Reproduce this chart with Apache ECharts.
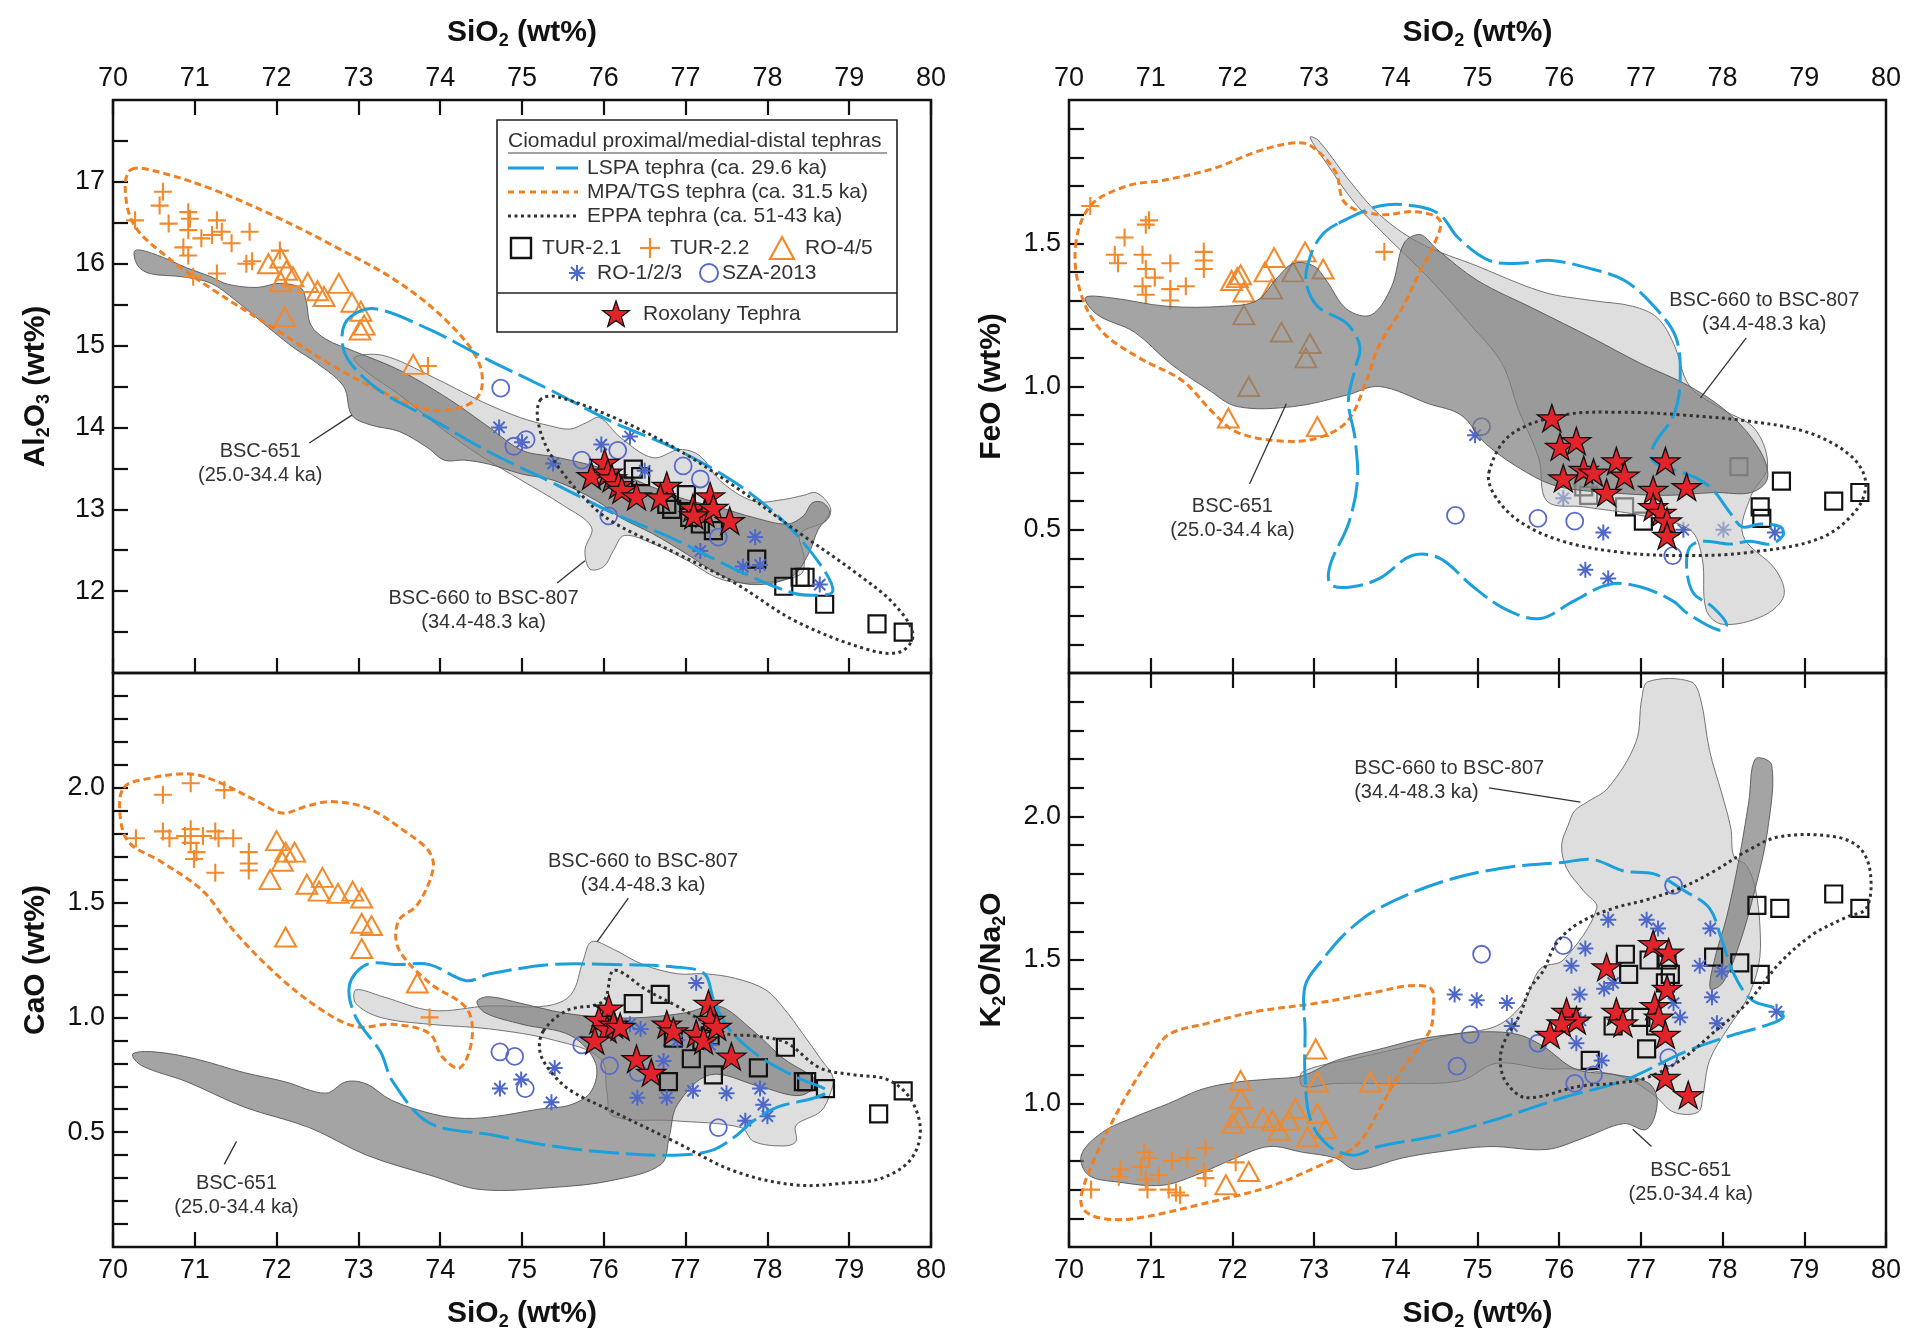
<!DOCTYPE html>
<html>
<head>
<meta charset="utf-8">
<script src="https://cdn.jsdelivr.net/npm/echarts@6/dist/echarts.min.js"></script>
<style>
html, body { margin: 0; padding: 0; background: #fff; }
#chart { width: 1911px; height: 1337px; }
</style>
</head>
<body>
<div id="chart"></div>
<script>
// axis ranges
const siO2Range = [70, 80]
const al2o3Range = [11, 18]
const caoRange = [0, 2.5]
const feoRange = [0, 2]
const ratioRange = [0.5, 2.5]

// ---- Al2O3 vs SiO2 ----
const alTur21 = [[76.36,13.49],[76.45,13.4],[76.77,13.06],[76.83,13.0],[77.01,13.18],[77.05,12.9],[77.18,12.82],[77.34,12.74],[77.87,12.39],[78.2,12.06],[78.4,12.17],[78.46,12.17],[78.7,11.84],[79.34,11.6],[79.66,11.5]]
const alTur22 = [[70.27,16.53],[70.57,16.71],[70.61,16.88],[70.68,16.49],[70.92,16.63],[70.94,16.55],[70.92,16.41],[70.86,16.2],[70.92,16.1],[70.98,15.84],[71.08,16.31],[71.21,16.35],[71.27,16.53],[71.33,16.39],[71.45,16.25],[71.67,16.39],[71.63,16.0],[71.7,16.03],[71.27,15.88],[72.04,16.16],[73.85,14.75]]
const alRo45 = [[71.9,16.0],[72.05,16.07],[72.12,15.92],[72.05,15.78],[72.2,15.84],[72.38,15.77],[72.5,15.67],[72.58,15.6],[72.76,15.76],[72.92,15.53],[73.03,15.42],[73.07,15.25],[73.02,15.19],[72.1,15.35],[73.67,14.77]]
const alRo123 = [[74.72,14.0],[75.0,13.82],[75.38,13.56],[75.97,13.79],[76.32,13.89],[76.5,13.47],[77.18,12.49],[77.85,12.66],[77.91,12.32],[77.7,12.3],[78.64,12.08]]
const alSza = [[74.74,14.48],[74.9,13.77],[75.05,13.85],[75.73,13.6],[76.17,13.72],[76.06,12.92],[76.97,13.53],[77.18,13.37],[77.4,12.66]]
const alRox = [[76.01,13.57],[75.85,13.41],[76.05,13.45],[76.1,13.38],[76.18,13.3],[76.22,13.24],[76.4,13.16],[76.77,13.29],[76.69,13.15],[77.09,13.02],[77.3,13.16],[77.24,12.95],[77.34,13.02],[77.1,12.93],[77.54,12.86]]
const alBsc651 = [[70.27,16.16],[70.5,16.12],[70.9,15.95],[71.2,15.84],[71.4,15.75],[71.76,15.71],[72.04,15.76],[72.3,15.7],[72.36,15.55],[72.42,15.25],[72.6,15.08],[72.95,14.93],[73.5,14.7],[74.1,14.35],[74.6,14.0],[75.0,13.72],[75.4,13.64],[75.8,13.55],[76.2,13.43],[76.6,13.27],[77.0,13.12],[77.42,13.02],[77.83,12.9],[78.24,12.82],[78.44,12.92],[78.55,13.08],[78.68,13.08],[78.76,12.95],[78.62,12.75],[78.5,12.45],[78.3,12.18],[77.83,12.08],[77.42,12.2],[77.02,12.45],[76.6,12.7],[76.2,12.9],[75.92,13.1],[75.4,13.35],[75.0,13.43],[74.6,13.55],[74.3,13.6],[74.05,13.6],[73.85,13.75],[73.5,13.95],[73.15,14.03],[72.92,14.15],[72.82,14.5],[72.5,14.78],[72.2,14.98],[71.9,15.22],[71.5,15.55],[71.2,15.76],[70.85,15.84],[70.45,15.88],[70.3,15.98]]
const alBsc660 = [[72.95,14.85],[73.3,14.88],[73.9,14.62],[74.5,14.32],[74.98,14.12],[75.34,14.02],[75.59,13.98],[75.79,14.06],[75.95,14.12],[76.2,13.88],[76.6,13.63],[76.93,13.73],[77.18,13.65],[77.42,13.35],[77.83,13.1],[78.2,13.12],[78.44,13.17],[78.6,13.2],[78.77,13.02],[78.72,12.86],[78.4,12.7],[78.45,12.4],[78.4,12.2],[77.83,12.1],[77.42,12.15],[77.01,12.38],[76.6,12.58],[76.25,12.68],[76.12,12.5],[76.0,12.3],[75.83,12.27],[75.77,12.5],[75.85,12.78],[75.5,13.05],[75.0,13.35],[74.5,13.65],[74.0,14.0],[73.5,14.4],[73.1,14.68]]
const alLspa = [[72.9,15.35],[73.2,15.45],[73.86,15.2],[74.6,14.82],[75.36,14.45],[76.1,14.07],[76.85,13.75],[77.6,13.33],[78.2,12.85],[78.65,12.32],[78.8,12.0],[78.6,11.95],[78.3,11.98],[77.6,12.27],[76.85,12.64],[76.1,12.96],[75.36,13.33],[74.6,13.7],[73.86,14.12],[73.26,14.45],[72.88,14.82],[72.8,15.12]]
const alMpa = [[70.22,17.15],[70.56,17.12],[71.24,16.9],[72.0,16.57],[72.73,16.2],[73.48,15.78],[74.08,15.3],[74.46,14.82],[74.5,14.45],[74.3,14.26],[73.86,14.22],[73.26,14.45],[72.66,14.77],[72.0,15.19],[71.24,15.67],[70.64,16.1],[70.26,16.47],[70.15,16.9]]
const alEppa = [[75.22,14.33],[75.4,14.38],[76.1,14.13],[76.85,13.76],[77.6,13.28],[78.35,12.74],[79.1,12.21],[79.55,11.84],[79.78,11.47],[79.63,11.26],[79.25,11.28],[78.35,11.63],[77.6,12.1],[76.85,12.48],[76.1,12.85],[75.73,13.17],[75.36,13.65],[75.2,14.05]]

// ---- CaO vs SiO2 ----
const caTur21 = [[76.36,1.06],[76.69,1.1],[76.85,0.91],[77.07,0.82],[77.34,0.75],[76.79,0.72],[77.2,0.9],[77.3,0.92],[78.22,0.87],[77.89,0.78],[78.44,0.72],[78.48,0.72],[78.71,0.69],[79.36,0.58],[79.66,0.68]]
const caTur22 = [[70.28,1.78],[70.61,1.97],[70.61,1.81],[70.69,1.78],[70.88,1.79],[70.95,2.02],[70.95,1.82],[70.95,1.76],[71.02,1.72],[70.99,1.69],[71.1,1.79],[71.25,1.81],[71.29,1.78],[71.47,1.78],[71.36,1.99],[71.25,1.63],[71.66,1.72],[71.66,1.67],[71.66,1.64],[73.87,1.0]]
const caRo45 = [[72.0,1.77],[72.11,1.72],[72.22,1.72],[72.07,1.68],[71.92,1.6],[72.37,1.58],[72.56,1.61],[72.52,1.55],[72.75,1.54],[72.93,1.55],[73.04,1.52],[73.04,1.41],[73.16,1.4],[73.04,1.3],[72.11,1.35],[73.72,1.15]]
const caRo123 = [[74.73,0.69],[74.99,0.73],[75.4,0.78],[75.36,0.63],[76.32,0.97],[76.45,0.95],[76.73,0.81],[76.77,0.65],[76.41,0.65],[77.09,0.68],[77.13,1.15],[77.5,0.67],[77.91,0.69],[77.95,0.62],[77.73,0.55],[78.0,0.57],[76.9,0.9],[77.3,0.88]]
const caSza = [[74.73,0.85],[74.91,0.83],[75.04,0.69],[75.73,0.88],[76.07,0.79],[76.42,0.76],[77.4,0.52]]
const caRox = [[76.06,1.04],[75.94,0.99],[76.04,0.95],[76.12,0.97],[76.2,0.96],[75.89,0.9],[76.4,0.82],[76.58,0.76],[76.77,0.97],[76.85,0.94],[77.28,1.06],[77.3,0.99],[77.13,0.93],[77.22,0.9],[77.38,0.96],[77.56,0.83]]
const caBsc651 = [[70.24,0.84],[70.5,0.85],[71.0,0.82],[71.6,0.76],[72.1,0.72],[72.6,0.67],[72.85,0.72],[73.1,0.71],[73.4,0.64],[73.9,0.58],[74.3,0.56],[74.7,0.57],[75.2,0.6],[75.6,0.62],[75.85,0.68],[75.9,0.8],[75.6,0.92],[75.0,0.97],[74.55,1.02],[74.45,1.07],[74.6,1.09],[75.0,1.06],[75.5,1.02],[76.0,1.0],[76.5,1.0],[77.0,1.02],[77.4,1.05],[77.8,0.95],[78.2,0.82],[78.6,0.72],[78.4,0.66],[77.9,0.7],[77.3,0.75],[76.9,0.62],[76.8,0.48],[76.7,0.36],[76.1,0.29],[75.4,0.26],[74.5,0.25],[73.9,0.31],[73.1,0.4],[72.4,0.52],[71.6,0.61],[70.9,0.72],[70.35,0.79]]
const caBsc660 = [[72.97,1.12],[73.3,1.09],[73.9,1.03],[74.6,1.05],[75.3,1.05],[75.6,1.1],[75.75,1.25],[75.85,1.33],[76.1,1.3],[76.48,1.23],[76.9,1.19],[77.23,1.19],[77.61,1.17],[77.98,1.12],[78.2,1.04],[78.43,0.93],[78.65,0.82],[78.8,0.74],[78.77,0.67],[78.65,0.59],[78.35,0.53],[78.35,0.46],[78.2,0.44],[77.83,0.46],[77.68,0.52],[76.86,0.55],[76.11,0.57],[76.04,0.67],[75.96,0.82],[75.4,0.9],[74.6,0.95],[73.87,0.97],[73.27,1.0],[72.97,1.06]]
const caLspa = [[72.89,1.14],[73.1,1.23],[73.5,1.23],[73.87,1.23],[74.32,1.16],[74.61,1.19],[75.36,1.23],[76.11,1.23],[76.86,1.22],[77.23,1.19],[77.34,1.08],[77.53,0.95],[77.9,0.83],[78.35,0.74],[78.73,0.68],[78.58,0.65],[78.13,0.61],[77.83,0.55],[77.6,0.48],[77.31,0.42],[76.86,0.4],[76.11,0.41],[75.36,0.44],[74.61,0.49],[73.87,0.54],[73.42,0.72],[73.27,0.85],[72.97,1.0]]
const caMpa = [[70.13,2.0],[70.43,2.04],[70.95,2.06],[71.32,2.02],[71.77,1.94],[72.07,1.89],[72.37,1.92],[72.67,1.94],[73.12,1.91],[73.57,1.81],[73.87,1.72],[73.91,1.64],[73.72,1.49],[73.49,1.42],[73.49,1.3],[73.87,1.15],[74.32,1.04],[74.39,0.91],[74.24,0.78],[74.02,0.83],[73.87,0.93],[73.42,0.97],[72.97,0.96],[72.52,1.04],[71.99,1.19],[71.47,1.38],[71.1,1.55],[70.58,1.68],[70.2,1.76],[70.09,1.87]]
const caEppa = [[75.26,0.94],[75.55,1.03],[75.99,1.07],[76.1,1.2],[76.2,1.2],[76.52,1.12],[76.89,1.05],[77.5,0.93],[77.83,0.92],[78.23,0.89],[78.64,0.78],[79.05,0.75],[79.46,0.73],[79.74,0.65],[79.87,0.51],[79.75,0.38],[79.4,0.3],[79.0,0.28],[78.35,0.27],[77.6,0.33],[76.86,0.46],[76.11,0.59],[75.6,0.68],[75.36,0.76],[75.22,0.85]]

// ---- FeO vs SiO2 ----
const feTur21 = [[76.36,0.62],[76.8,0.58],[77.03,0.53],[78.46,0.58],[78.48,0.54],[78.72,0.67],[79.36,0.6],[79.68,0.63],[78.2,0.72],[76.3,0.65]]
const feTur22 = [[70.26,1.63],[70.98,1.58],[70.94,1.565],[70.68,1.52],[70.56,1.46],[70.6,1.43],[70.9,1.46],[70.94,1.41],[71.05,1.38],[70.9,1.35],[70.94,1.32],[71.24,1.43],[71.24,1.34],[71.24,1.3],[71.43,1.35],[71.65,1.47],[71.65,1.44],[71.65,1.41],[73.86,1.47]]
const feRo45 = [[71.99,1.37],[72.06,1.38],[72.1,1.39],[72.14,1.33],[72.4,1.4],[72.51,1.45],[72.48,1.34],[72.74,1.4],[72.89,1.47],[73.11,1.41],[72.14,1.25],[71.95,0.89],[73.04,0.86],[72.6,1.19],[72.95,1.15],[72.9,1.1],[72.2,1.0]]
const feRo123 = [[74.97,0.83],[76.05,0.61],[76.54,0.49],[76.32,0.36],[76.6,0.33],[77.52,0.5],[78.01,0.5],[78.64,0.49]]
const feSza = [[74.73,0.55],[75.74,0.54],[76.19,0.53],[77.39,0.41],[75.05,0.86]]
const feRox = [[75.91,0.89],[76.01,0.79],[76.21,0.81],[76.05,0.68],[76.3,0.71],[76.42,0.7],[76.58,0.63],[76.7,0.74],[76.8,0.69],[77.3,0.74],[77.56,0.65],[77.15,0.64],[77.15,0.58],[77.25,0.56],[77.32,0.53],[77.32,0.48]]
const feBsc651 = [[70.2,1.31],[70.5,1.31],[71.2,1.28],[71.9,1.28],[72.3,1.3],[72.55,1.38],[72.75,1.43],[73.0,1.42],[73.15,1.37],[73.4,1.27],[73.7,1.25],[73.95,1.35],[74.1,1.5],[74.3,1.53],[74.5,1.48],[75.0,1.37],[75.7,1.27],[76.4,1.17],[77.0,1.08],[77.6,1.0],[78.1,0.9],[78.45,0.78],[78.55,0.68],[78.35,0.63],[77.9,0.63],[77.3,0.62],[76.6,0.63],[76.0,0.65],[75.6,0.7],[75.1,0.8],[74.8,0.9],[74.4,0.94],[73.8,1.0],[73.4,0.97],[72.75,0.93],[72.06,0.93],[71.7,0.99],[71.24,1.08],[70.8,1.19],[70.35,1.25]]
const feBsc660 = [[72.95,1.87],[73.05,1.86],[73.4,1.73],[73.8,1.6],[74.3,1.5],[75.0,1.42],[75.8,1.33],[76.4,1.3],[76.9,1.28],[77.2,1.24],[77.4,1.15],[77.6,1.0],[78.0,0.92],[78.4,0.85],[78.55,0.72],[78.35,0.62],[78.25,0.48],[78.65,0.36],[78.75,0.27],[78.5,0.2],[78.0,0.17],[77.8,0.22],[77.75,0.4],[77.6,0.5],[77.0,0.55],[76.3,0.58],[75.85,0.6],[75.75,0.75],[75.5,0.92],[75.3,1.08],[74.9,1.22],[74.4,1.38],[73.9,1.52],[73.5,1.64],[73.15,1.78]]
const feLspa = [[73.3,1.57],[73.8,1.63],[74.24,1.63],[74.54,1.6],[74.76,1.52],[75.14,1.44],[75.51,1.43],[75.9,1.44],[76.4,1.41],[76.8,1.37],[77.16,1.28],[77.43,1.17],[77.48,1.02],[77.4,0.9],[77.15,0.79],[77.15,0.74],[77.4,0.71],[77.68,0.68],[77.88,0.64],[78.09,0.56],[78.24,0.51],[78.46,0.52],[78.71,0.51],[78.74,0.48],[78.58,0.45],[78.34,0.46],[78.09,0.45],[77.76,0.46],[77.6,0.44],[77.56,0.37],[77.64,0.28],[77.88,0.23],[78.05,0.17],[77.95,0.15],[77.56,0.21],[77.4,0.25],[77.0,0.3],[76.62,0.31],[76.17,0.25],[75.77,0.19],[75.36,0.22],[74.95,0.3],[74.54,0.4],[74.2,0.41],[73.8,0.33],[73.45,0.3],[73.2,0.31],[73.2,0.38],[73.42,0.52],[73.53,0.67],[73.5,0.82],[73.42,0.95],[73.5,1.06],[73.56,1.14],[73.4,1.22],[73.04,1.28],[72.9,1.37],[72.96,1.46],[73.1,1.53]]
const feMpa = [[70.08,1.49],[70.26,1.63],[70.71,1.7],[71.16,1.72],[71.76,1.76],[72.3,1.82],[72.74,1.85],[72.96,1.84],[73.26,1.75],[73.38,1.64],[73.79,1.6],[74.24,1.61],[74.54,1.58],[74.46,1.49],[74.31,1.41],[74.09,1.28],[73.79,1.14],[73.64,1.02],[73.41,0.88],[73.04,0.82],[72.59,0.81],[72.06,0.84],[71.76,0.91],[71.39,1.02],[70.86,1.1],[70.41,1.19],[70.15,1.32]]
const feEppa = [[75.14,0.7],[75.4,0.83],[76.04,0.9],[76.79,0.91],[77.54,0.9],[78.29,0.88],[79.04,0.84],[79.56,0.76],[79.75,0.67],[79.64,0.57],[79.19,0.47],[78.29,0.42],[77.54,0.41],[76.79,0.42],[76.04,0.46],[75.51,0.53],[75.21,0.62]]

// ---- K2O/Na2O vs SiO2 ----
const krTur21 = [[76.81,1.52],[76.85,1.45],[77.1,1.5],[77.32,1.5],[77.36,1.45],[77.89,1.51],[78.21,1.49],[78.46,1.45],[78.42,1.69],[78.7,1.68],[79.36,1.73],[79.68,1.68],[76.66,1.27],[77.07,1.19],[76.38,1.15],[77.0,1.3],[77.18,1.27],[77.3,1.42]]
const krTur22 = [[70.27,0.7],[70.63,0.77],[70.61,0.745],[70.88,0.78],[70.94,0.735],[70.96,0.7],[70.92,0.83],[70.98,0.81],[71.1,0.75],[71.26,0.8],[71.45,0.81],[71.22,0.7],[71.31,0.69],[71.36,0.68],[71.67,0.845],[71.65,0.765],[71.67,0.74],[72.04,0.795],[73.92,1.066]]
const krRo45 = [[72.1,1.08],[72.1,1.017],[73.02,1.19],[73.04,1.075],[73.69,1.075],[72.0,0.93],[72.08,0.95],[72.37,0.95],[72.49,0.94],[72.57,0.907],[72.77,0.983],[72.69,0.942],[73.04,0.965],[73.14,0.913],[72.92,0.884],[72.2,0.763],[71.92,0.717]]
const krRo123 = [[74.72,1.38],[74.99,1.36],[75.36,1.35],[75.42,1.27],[76.15,1.48],[76.32,1.54],[76.6,1.64],[76.25,1.38],[76.55,1.4],[76.66,1.42],[76.21,1.21],[76.52,1.15],[77.07,1.64],[77.21,1.61],[77.85,1.61],[77.72,1.48],[77.99,1.46],[77.87,1.37],[77.93,1.28],[78.66,1.32],[77.48,1.3],[76.26,1.29],[77.4,1.35]]
const krSza = [[75.05,1.52],[76.05,1.55],[77.4,1.76],[74.91,1.24],[74.75,1.13],[75.74,1.21],[76.19,1.07],[76.42,1.1],[77.34,1.16]]
const krRox = [[76.58,1.475],[77.15,1.556],[77.34,1.527],[77.32,1.4],[76.09,1.32],[76.21,1.29],[76.03,1.28],[75.89,1.24],[76.7,1.32],[76.78,1.28],[77.17,1.34],[77.22,1.3],[77.3,1.24],[77.3,1.09],[77.58,1.03]]
const krBsc651Band = [[70.15,0.82],[70.41,0.9],[70.82,0.955],[71.22,1.0],[71.63,1.05],[72.04,1.074],[72.45,1.085],[72.86,1.097],[73.26,1.149],[73.88,1.195],[74.28,1.224],[74.69,1.241],[75.1,1.25],[75.5,1.24],[75.8,1.2],[76.2,1.12],[76.7,1.1],[77.1,1.07],[77.2,1.0],[77.07,0.91],[76.79,0.93],[76.3,0.88],[75.85,0.84],[75.14,0.85],[74.49,0.83],[74.08,0.81],[73.51,0.77],[73.26,0.81],[72.86,0.83],[72.45,0.85],[72.04,0.81],[71.55,0.75],[71.14,0.715],[70.61,0.726],[70.24,0.75]]
const krBsc651Streak = [[78.4,2.2],[78.6,2.18],[78.55,1.95],[78.4,1.75],[78.2,1.55],[78.0,1.42],[77.85,1.4],[77.9,1.5],[78.05,1.65],[78.2,1.85],[78.32,2.05]]
const krBsc660 = [[72.86,1.11],[73.55,1.16],[74.08,1.195],[74.69,1.24],[75.23,1.27],[75.56,1.35],[75.77,1.47],[76.05,1.5],[76.46,1.68],[76.3,1.74],[76.09,1.82],[76.03,1.9],[76.11,1.97],[76.19,2.02],[76.34,2.05],[76.6,2.1],[76.94,2.26],[77.01,2.41],[77.09,2.47],[77.61,2.47],[77.73,2.41],[77.84,2.23],[77.99,2.08],[78.1,1.96],[78.14,1.86],[78.29,1.83],[78.4,1.75],[78.46,1.6],[78.44,1.48],[78.29,1.36],[78.06,1.26],[77.84,1.15],[77.76,1.03],[77.7,0.97],[77.4,0.97],[77.16,1.03],[76.8,1.09],[76.2,1.12],[75.85,1.12],[75.23,1.14],[74.8,1.08],[74.08,1.07],[73.26,1.07],[72.86,1.06]]
const krLspa = [[72.89,1.41],[73.1,1.5],[73.41,1.6],[73.79,1.68],[74.54,1.77],[75.29,1.82],[76.04,1.84],[76.41,1.85],[76.79,1.81],[77.16,1.8],[77.54,1.74],[77.84,1.68],[77.99,1.57],[78.14,1.45],[78.36,1.36],[78.66,1.33],[78.74,1.3],[78.51,1.27],[78.14,1.24],[77.54,1.18],[76.79,1.08],[76.04,1.02],[75.29,0.95],[74.54,0.89],[73.79,0.85],[73.49,0.82],[73.19,0.85],[72.96,0.94],[72.89,1.09],[72.89,1.25]]
const krMpa = [[70.15,0.68],[70.3,0.8],[70.5,0.92],[70.75,1.05],[71.0,1.16],[71.22,1.24],[71.7,1.28],[72.28,1.32],[73.04,1.35],[73.79,1.39],[74.16,1.41],[74.43,1.4],[74.46,1.33],[74.41,1.25],[74.08,1.12],[73.8,0.98],[73.6,0.88],[73.4,0.83],[73.04,0.78],[72.45,0.71],[71.63,0.65],[70.82,0.6],[70.4,0.6],[70.18,0.63]]
const krEppa = [[75.6,1.02],[76.25,1.06],[76.66,1.07],[77.07,1.09],[77.48,1.15],[77.9,1.25],[78.3,1.35],[78.7,1.49],[79.11,1.59],[79.52,1.65],[79.76,1.68],[79.81,1.8],[79.68,1.89],[79.36,1.93],[78.7,1.93],[78.3,1.88],[77.9,1.81],[77.48,1.75],[77.07,1.71],[76.66,1.68],[76.25,1.63],[75.97,1.56],[75.8,1.46],[75.64,1.4],[75.52,1.31],[75.32,1.21],[75.28,1.14],[75.36,1.07]]

// ---- layout and styles ----
const FONT = '"Liberation Sans", Arial, Helvetica, sans-serif'
const INK = '#111'
const ORANGE = '#f28a2c'
const BLUE_PT = '#4d68c8'
const CYAN = '#1ba0dc'

const PLUS = 'path://M10,0L10,20M0,10L20,10'
const ASTER = 'path://M10,0L10,20M0,10L20,10M3,3L17,17M17,3L3,17'
const STAR = 'path://M50,2L61.2,36.3L97.6,36.3L68.2,57.6L79.4,92L50,70.7L20.6,92L31.8,57.6L2.4,36.3L38.8,36.3Z'

const markStyles = [
  { name: 'TUR-2.1', symbol: 'rect', size: 17, fill: 'rgba(0,0,0,0)', stroke: INK, width: 2.2 },
  { name: 'TUR-2.2', symbol: PLUS, size: 18, fill: 'rgba(0,0,0,0)', stroke: ORANGE, width: 2.1 },
  { name: 'RO-4/5', symbol: 'triangle', size: [21, 19], fill: 'rgba(0,0,0,0)', stroke: ORANGE, width: 2 },
  { name: 'RO-1/2/3', symbol: ASTER, size: 16, fill: 'rgba(0,0,0,0)', stroke: BLUE_PT, width: 2 },
  { name: 'SZA-2013', symbol: 'circle', size: 17, fill: 'rgba(0,0,0,0)', stroke: '#5a6acb', width: 1.8 },
  { name: 'Roxolany Tephra', symbol: STAR, size: [29, 27], fill: '#e3232a', stroke: INK, width: 1.3 }
]

const panels = [
  { marks: [alTur21, alTur22, alRo45, alRo123, alSza, alRox], light: [alBsc660], dark: [alBsc651], lspa: alLspa, mpa: alMpa, eppa: alEppa, fieldsOnTop: false },
  { marks: [caTur21, caTur22, caRo45, caRo123, caSza, caRox], light: [caBsc660], dark: [caBsc651], lspa: caLspa, mpa: caMpa, eppa: caEppa, fieldsOnTop: false },
  { marks: [feTur21, feTur22, feRo45, feRo123, feSza, feRox], light: [feBsc660], dark: [feBsc651], lspa: feLspa, mpa: feMpa, eppa: feEppa, fieldsOnTop: true },
  { marks: [krTur21, krTur22, krRo45, krRo123, krSza, krRox], light: [krBsc660], dark: [krBsc651Band, krBsc651Streak], lspa: krLspa, mpa: krMpa, eppa: krEppa, fieldsOnTop: false }
]

const notes = [
  { panel: 0, at: [71.8, 13.56], from: [72.4, 13.81], to: [72.92, 14.15], text: 'BSC-651\n(25.0-34.4 ka)', align: 'center' },
  { panel: 0, at: [74.53, 11.76], from: [75.43, 12.1], to: [75.77, 12.37], text: 'BSC-660 to BSC-807\n(34.4-48.3 ka)', align: 'center' },
  { panel: 1, at: [76.48, 1.625], from: [76.3, 1.52], to: [75.92, 1.33], text: 'BSC-660 to BSC-807\n(34.4-48.3 ka)', align: 'center' },
  { panel: 1, at: [71.51, 0.225], from: [71.36, 0.36], to: [71.51, 0.46], text: 'BSC-651\n(25.0-34.4 ka)', align: 'center' },
  { panel: 2, at: [72.0, 0.54], from: [72.21, 0.66], to: [72.66, 0.94], text: 'BSC-651\n(25.0-34.4 ka)', align: 'center' },
  { panel: 2, at: [78.51, 1.26], from: [78.29, 1.17], to: [77.73, 0.96], text: 'BSC-660 to BSC-807\n(34.4-48.3 ka)', align: 'center' },
  { panel: 3, at: [73.49, 2.125], from: [75.14, 2.1], to: [76.26, 2.05], text: 'BSC-660 to BSC-807\n(34.4-48.3 ka)', align: 'left' },
  { panel: 3, at: [77.61, 0.725], from: [77.13, 0.85], to: [76.9, 0.91], text: 'BSC-651\n(25.0-34.4 ka)', align: 'center' }
]

const grids = [
  { left: 113, top: 100, width: 818, height: 573 },
  { left: 113, top: 673, width: 818, height: 574 },
  { left: 1069, top: 100, width: 817, height: 573 },
  { left: 1069, top: 673, width: 817, height: 574 }
]
const xAxisOf = [0, 2, 3, 5]

const nameStyle = {
  color: INK,
  rich: {
    b: { fontSize: 30, fontWeight: 'bold', fontFamily: FONT, color: INK, lineHeight: 34 },
    s: { fontSize: 18, fontWeight: 'bold', fontFamily: FONT, color: INK, lineHeight: 18, verticalAlign: 'bottom' }
  }
}
const siName = '{b|SiO}{s|2}{b| (wt%)}'
const tick = { show: true, inside: true, length: 15, lineStyle: { color: INK, width: 2.2 } }

function xAxis(grid, position, labelled) {
  return {
    type: 'value', gridIndex: grid, position, min: siO2Range[0], max: siO2Range[1], interval: 1,
    axisLine: { show: false }, splitLine: { show: false }, axisTick: tick,
    axisLabel: { show: labelled, fontSize: 27, fontFamily: FONT, color: INK, margin: position === 'top' ? 8 : 10 },
    name: labelled ? siName : '', nameLocation: 'middle', nameGap: position === 'top' ? 50 : 50,
    nameTextStyle: nameStyle
  }
}

function yAxis(grid, range, step, name, labelFn) {
  return {
    type: 'value', gridIndex: grid, min: range[0], max: range[1], interval: step,
    axisLine: { show: false }, splitLine: { show: false }, axisTick: tick,
    axisLabel: { fontSize: 27, fontFamily: FONT, color: INK, margin: 8, showMinLabel: false, showMaxLabel: false, formatter: labelFn },
    name, nameLocation: 'middle', nameRotate: 90, nameGap: 60, nameTextStyle: nameStyle
  }
}

const wholeLabel = v => Math.abs(v - Math.round(v)) < 1e-6 ? String(Math.round(v)) : ''
const halfLabel = v => Math.abs(v * 2 - Math.round(v * 2)) < 1e-6 ? v.toFixed(1) : ''

function shapeSeries(panel, pts, style, z) {
  return {
    type: 'custom', xAxisIndex: xAxisOf[panel], yAxisIndex: panel, z, silent: true, clip: true,
    data: pts, encode: { x: 0, y: 1 },
    renderItem(params, api) {
      if (params.dataIndex !== 0) return null
      return {
        type: 'polygon',
        shape: { points: pts.map(p => api.coord(p)), smooth: 0.35 },
        style: Object.assign({ fill: 'none' }, style)
      }
    }
  }
}

function markSeries(panel, pts, m, z) {
  return {
    name: m.name, type: 'scatter', xAxisIndex: xAxisOf[panel], yAxisIndex: panel, z, silent: true,
    data: pts, symbol: m.symbol, symbolSize: m.size,
    itemStyle: { color: m.fill, borderColor: m.stroke, borderWidth: m.width, opacity: 1 }
  }
}

const series = []
panels.forEach((p, i) => {
  const fz = p.fieldsOnTop ? 3 : 1
  const pz = p.fieldsOnTop ? 2 : 3
  p.light.forEach(s => series.push(shapeSeries(i, s, { fill: 'rgba(200,200,200,0.6)', stroke: '#666', lineWidth: 0.9 }, fz)))
  p.dark.forEach(s => series.push(shapeSeries(i, s, { fill: 'rgba(125,125,125,0.7)', stroke: '#555', lineWidth: 0.9 }, fz)))
  series.push(shapeSeries(i, p.mpa, { stroke: '#f07f22', lineWidth: 3, lineDash: [7, 4] }, 4))
  series.push(shapeSeries(i, p.lspa, { stroke: CYAN, lineWidth: 3, lineDash: [30, 7] }, 4))
  series.push(shapeSeries(i, p.eppa, { stroke: '#333', lineWidth: 3, lineDash: [3, 3.5] }, 4))
  p.marks.forEach((pts, k) => series.push(markSeries(i, pts, markStyles[k], k === 5 ? 6 : pz)))
})

notes.forEach(n => {
  series.push({
    type: 'custom', xAxisIndex: xAxisOf[n.panel], yAxisIndex: n.panel, z: 7, silent: true,
    data: [[n.at[0], n.at[1], n.from[0], n.from[1], n.to[0], n.to[1]]],
    encode: { x: 0, y: 1 },
    renderItem(params, api) {
      const c = api.coord([api.value(0), api.value(1)])
      const a = api.coord([api.value(2), api.value(3)])
      const b = api.coord([api.value(4), api.value(5)])
      return {
        type: 'group',
        children: [
          { type: 'line', shape: { x1: a[0], y1: a[1], x2: b[0], y2: b[1] }, style: { stroke: '#333', lineWidth: 1.3 } },
          { type: 'text', x: c[0], y: c[1], style: { text: n.text, fill: '#333', font: '20px ' + FONT, align: n.align, verticalAlign: 'middle', lineHeight: 24 } }
        ]
      }
    }
  })
})

// legend box drawn by hand
const lf = '21px ' + FONT
const txt = (x, y, s) => ({ type: 'text', x, y, z: 101, style: { text: s, font: lf, fill: '#333', verticalAlign: 'middle' } })
const seg = (x1, y1, x2, y2, st) => ({ type: 'line', z: 101, shape: { x1, y1, x2, y2 }, style: st })
function starPts(cx, cy, r) {
  const pts = []
  for (let k = 0; k < 10; k++) {
    const rr = k % 2 ? r * 0.4 : r
    const a = -Math.PI / 2 + k * Math.PI / 5
    pts.push([cx + rr * Math.cos(a), cy + rr * Math.sin(a)])
  }
  return pts
}
const legend = [
  { type: 'rect', z: 100, shape: { x: 497, y: 120, width: 400, height: 212 }, style: { fill: '#fff', stroke: '#222', lineWidth: 1.6 } },
  txt(508, 141, 'Ciomadul proximal/medial-distal tephras'),
  seg(508, 153, 887, 153, { stroke: '#444', lineWidth: 1.2 }),
  seg(508, 168, 578, 168, { stroke: CYAN, lineWidth: 3, lineDash: [36, 12] }),
  txt(587, 168, 'LSPA tephra (ca. 29.6 ka)'),
  seg(508, 192, 578, 192, { stroke: '#f07f22', lineWidth: 3, lineDash: [6, 5] }),
  txt(587, 192, 'MPA/TGS tephra (ca. 31.5 ka)'),
  seg(508, 216, 578, 216, { stroke: '#333', lineWidth: 3, lineDash: [3, 3.5] }),
  txt(587, 216, 'EPPA tephra (ca. 51-43 ka)'),
  { type: 'rect', z: 101, shape: { x: 511, y: 238, width: 20, height: 20 }, style: { fill: 'none', stroke: INK, lineWidth: 2.4 } },
  txt(542, 248, 'TUR-2.1'),
  seg(640, 248, 660, 248, { stroke: ORANGE, lineWidth: 2.2 }),
  seg(650, 238, 650, 258, { stroke: ORANGE, lineWidth: 2.2 }),
  txt(670, 248, 'TUR-2.2'),
  { type: 'polygon', z: 101, shape: { points: [[782, 237], [794, 259], [770, 259]] }, style: { fill: 'none', stroke: ORANGE, lineWidth: 2.2 } },
  txt(805, 248, 'RO-4/5'),
  seg(569, 273, 585, 273, { stroke: BLUE_PT, lineWidth: 2 }),
  seg(577, 265, 577, 281, { stroke: BLUE_PT, lineWidth: 2 }),
  seg(571, 267, 583, 279, { stroke: BLUE_PT, lineWidth: 2 }),
  seg(583, 267, 571, 279, { stroke: BLUE_PT, lineWidth: 2 }),
  txt(597, 273, 'RO-1/2/3'),
  { type: 'circle', z: 101, shape: { cx: 709, cy: 273, r: 9 }, style: { fill: 'none', stroke: '#5a6acb', lineWidth: 2 } },
  txt(722, 273, 'SZA-2013'),
  seg(497, 293, 897, 293, { stroke: '#222', lineWidth: 1.6 }),
  { type: 'polygon', z: 101, shape: { points: starPts(616, 315, 14) }, style: { fill: '#e3232a', stroke: INK, lineWidth: 1.3 } },
  txt(643, 314, 'Roxolany Tephra')
]

const chart = echarts.init(document.getElementById('chart'))
chart.setOption({
  animation: false,
  backgroundColor: '#fff',
  grid: grids.map(g => Object.assign({ show: true, borderColor: INK, borderWidth: 2.5, backgroundColor: 'rgba(0,0,0,0)', containLabel: false, outerBoundsMode: 'none' }, g)),
  xAxis: [xAxis(0, 'top', true), xAxis(0, 'bottom', false), xAxis(1, 'bottom', true), xAxis(2, 'top', true), xAxis(2, 'bottom', false), xAxis(3, 'bottom', true)],
  yAxis: [
    yAxis(0, al2o3Range, 0.5, '{b|Al}{s|2}{b|O}{s|3}{b| (wt%)}', wholeLabel),
    yAxis(1, caoRange, 0.1, '{b|CaO (wt%)}', halfLabel),
    yAxis(2, feoRange, 0.1, '{b|FeO (wt%)}', halfLabel),
    yAxis(3, ratioRange, 0.1, '{b|K}{s|2}{b|O/Na}{s|2}{b|O}', halfLabel)
  ],
  graphic: legend,
  series
})
</script>
</body>
</html>
